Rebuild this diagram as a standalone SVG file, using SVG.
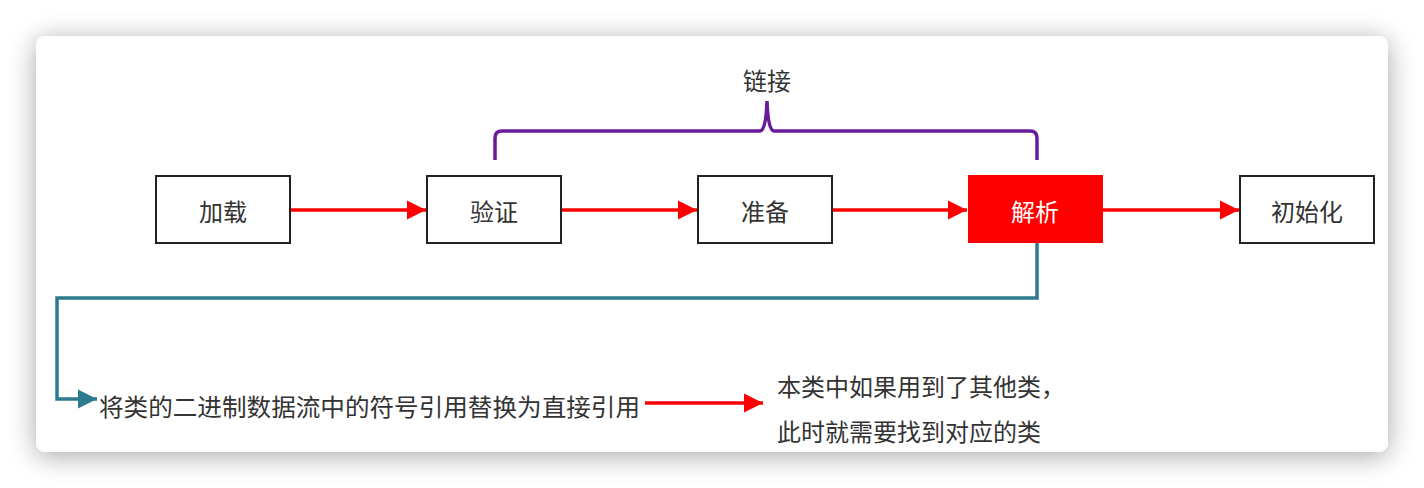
<svg xmlns="http://www.w3.org/2000/svg" width="1424" height="488" viewBox="0 0 1424 488">
<defs>
<filter id="sh" x="-10%" y="-20%" width="120%" height="140%">
<feGaussianBlur in="SourceAlpha" stdDeviation="14"/>
<feOffset dy="4" result="b"/>
<feComponentTransfer><feFuncA type="linear" slope="0.35"/></feComponentTransfer>
<feMerge><feMergeNode/><feMergeNode in="SourceGraphic"/></feMerge>
</filter>
<marker id="ar" viewBox="0 0 10 10" refX="10" refY="5" markerWidth="5.5" markerHeight="5.5" orient="auto" markerUnits="strokeWidth"><path d="M0,0 L10,5 L0,10 z" fill="#ff0000"/></marker>
<marker id="at" viewBox="0 0 10 10" refX="10" refY="5" markerWidth="5.5" markerHeight="5.5" orient="auto" markerUnits="strokeWidth"><path d="M0,0 L10,5 L0,10 z" fill="#2e7a8f"/></marker>
</defs>
<style>
.box{fill:#fff;stroke:#222;stroke-width:2}
.t{font-family:"Noto Sans CJK SC","Noto Sans",sans-serif;font-size:24px;fill:#333}
.c{text-anchor:middle;dominant-baseline:central}
.red{stroke:#ff0000;stroke-width:3.5;fill:none}
</style>
<rect width="1424" height="488" fill="#ffffff"/>
<rect x="36" y="36" width="1352" height="416" rx="9" fill="#ffffff" filter="url(#sh)"/>
<g id="connectors">
<path class="red" d="M290,210 H426" marker-end="url(#ar)"/>
<path class="red" d="M561,210 H697" marker-end="url(#ar)"/>
<path class="red" d="M832,210 H967" marker-end="url(#ar)"/>
<path class="red" d="M1103,210 H1239" marker-end="url(#ar)"/>
<path d="M1037,243 V298 H57 V399 H97" fill="none" stroke="#2e7a8f" stroke-width="3.5" marker-end="url(#at)"/>
<path class="red" d="M645,403 H763" marker-end="url(#ar)"/>
<path d="M495,160 V138 Q495,131 502,131 H760 Q766,131 767,101 Q768,131 774,131 H1030 Q1037,131 1037,138 V160" fill="none" stroke="#6a1b9a" stroke-width="3.5"/>
</g>
<g id="n-link"><text class="t c" x="767" y="79">链接</text></g>
<g id="n-load"><rect class="box" x="156" y="176" width="134" height="67"/><text class="t c" x="223" y="210">加载</text></g>
<g id="n-verify"><rect class="box" x="427" y="176" width="134" height="67"/><text class="t c" x="494" y="210">验证</text></g>
<g id="n-prepare"><rect class="box" x="698" y="176" width="134" height="67"/><text class="t c" x="765" y="210">准备</text></g>
<g id="n-resolve"><rect x="968" y="175" width="135" height="68" fill="#ff0000"/><text class="t c" x="1035" y="210" style="fill:#fff">解析</text></g>
<g id="n-init"><rect class="box" x="1240" y="176" width="134" height="67"/><text class="t c" x="1307" y="210">初始化</text></g>
<g id="n-desc"><text class="t" x="99" y="416" textLength="541" lengthAdjust="spacingAndGlyphs">将类的二进制数据流中的符号引用替换为直接引用</text></g>
<g id="n-note"><text class="t" x="777" y="396">本类中如果用到了其他类，</text><text class="t" x="777" y="441">此时就需要找到对应的类</text></g>
</svg>
